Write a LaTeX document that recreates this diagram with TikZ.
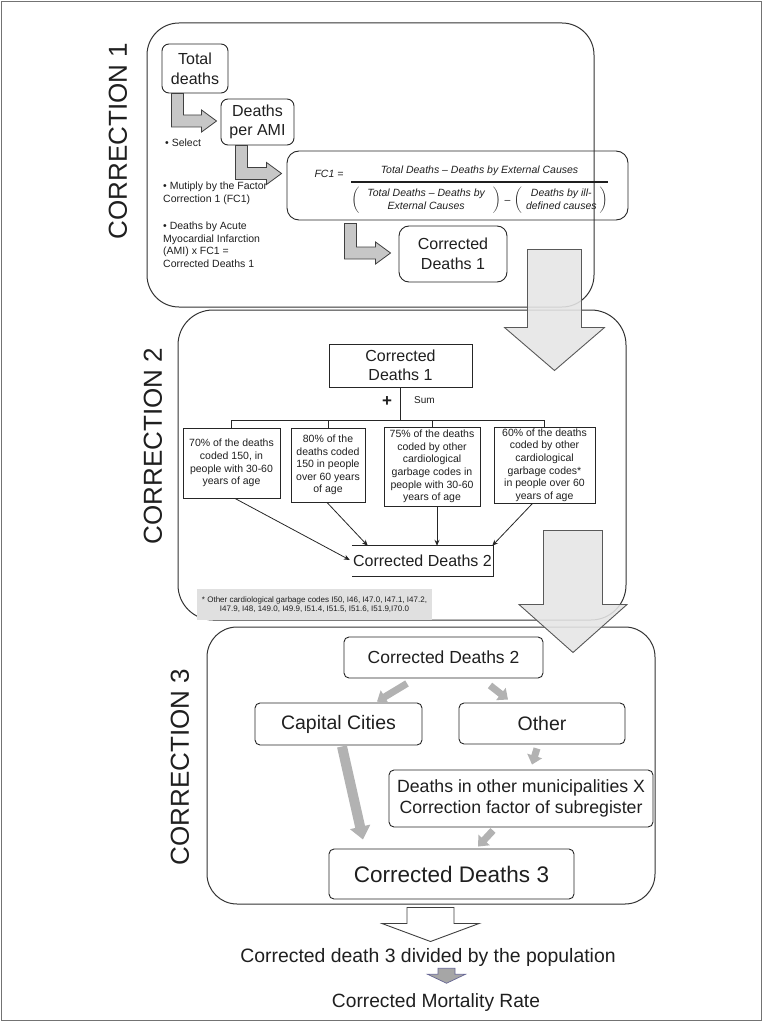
\documentclass[tikz,border=0pt]{standalone}
\usepackage{amsmath}
\usepackage{fontspec}
\setmainfont{Liberation Sans}
\usetikzlibrary{calc,arrows.meta}

% gray elbow arrow: #1 top of the shaft, #2 tip
\newcommand\elbow[2]{%
  \path[elbowarrow] let \p1=#1, \p2=#2 in
    (\x1-6pt,\y1) -- (\x1+6pt,\y1) -- (\x1+6pt,\y2+6pt) -- (\x2-15pt,\y2+6pt)
    -- (\x2-15pt,\y2+11pt) -- (\x2,\y2) -- (\x2-15pt,\y2-11pt) -- (\x2-15pt,\y2-6pt)
    -- (\x1-6pt,\y2-6pt) -- cycle;}
% block arrow pointing down: #1 style, #2 top, #3 half shaft, #4 half head, #5 shaft, #6 head
\newcommand\blockarrow[6]{%
  \path[#1] let \p1=#2 in
    (\x1-#3,\y1) -- (\x1+#3,\y1) -- (\x1+#3,\y1-#5) -- (\x1+#4,\y1-#5)
    -- (\x1,\y1-#5-#6) -- (\x1-#4,\y1-#5) -- (\x1-#3,\y1-#5) -- cycle;}
\newcommand\fsz[2]{\fontsize{#1}{#2}\selectfont}

\begin{document}
\begin{tikzpicture}[x=1pt,y=-1pt,
    every node/.style={text=black!88,inner sep=0pt,align=center},
    phase/.style={draw=black!80,line width=1pt,rounded corners=32pt},
    rbox/.style={draw=black!85,line width=0.9pt,rounded corners=7pt},
    sbox/.style={draw=black!85,line width=0.9pt},
    small/.style={font=\fsz{10.5}{12.6}},
    elbowarrow/.style={fill=black!22,draw=black!75,line width=0.8pt},
    bigarrow/.style={fill=black!10,fill opacity=0.88,draw=black!65,line width=0.9pt},
    whitearrow/.style={fill=white,draw=black!75,line width=0.9pt},
    tinyarrow/.style={fill=black!35,draw=blue!30!black!60,line width=0.7pt},
    thinarrow/.style={-{Stealth[length=6pt,width=5pt]},line width=0.8pt,black!85},
    garrow/.style={-{Triangle[length=9pt,width=15pt]},line width=7pt,black!30},
    phasename/.style={rotate=90,font=\fsz{26}{30}}]
\useasboundingbox (0,0) rectangle (763,1024);
\draw[black!55,line width=1.2pt] (1.5,1.5) rectangle (761.5,1020.5);

\node[phasename] (n1) at (118,141) {CORRECTION 1};
\node[phasename] (n2) at (153,446) {CORRECTION 2};
\node[phasename] (n3) at (180,767) {CORRECTION 3};

% correction 1
\node[phase,minimum width=447,minimum height=284] (c1) at (370.5,165) {};
\node[rbox,minimum width=66,minimum height=49,font=\fsz{16}{20}] (td) at (195,68.5) {Total\\deaths};
\node[rbox,minimum width=73,minimum height=46,font=\fsz{16}{19.5}] (dpa) at (257.5,122) {Deaths\\per AMI};
\node[rbox,rounded corners=12pt,minimum width=341,minimum height=69] (fcbox) at (457.5,185.5) {};
\node[rbox,rounded corners=10pt,minimum width=108,minimum height=56,font=\fsz{16}{19.7}] (cd1) at (453,254) {Corrected\\Deaths 1};
\node[small,anchor=west] (sel) at (165,143) {\textbullet\ Select};
\node[small,anchor=west,align=left] (mul) at (163,193.5) {\textbullet\ Mutiply by the Factor\\Correction 1 (FC1)};
\node[small,anchor=west,align=left] (ami) at (163,244.7) {\textbullet\ Deaths by Acute\\Myocardial Infarction\\(AMI) x FC1 =\\Corrected Deaths 1};
\node[small,font=\fsz{10.5}{12.6}\itshape] (fceq) at (329,174) {FC1 =};
\node[small,font=\fsz{10.5}{13}\itshape] (frac) at (479.5,190)
  {$\genfrac{}{}{1.6pt}{0}{\text{Total Deaths -- Deaths by External Causes}}
   {\left(\text{\begin{tabular}{@{\hspace{8pt}}c@{\hspace{8pt}}}Total Deaths -- Deaths by\\External Causes\end{tabular}}\right)\text{\,--\,}%
    \left(\text{\begin{tabular}{@{\hspace{4pt}}c@{\hspace{3pt}}}Deaths by ill-\\defined causes\end{tabular}}\right)}$};
\elbow{($(td.south west)+(16,0)$)}{($(dpa.west)+(-4,-1)$)}
\elbow{($(dpa.south west)+(21,0)$)}{($(fcbox.west)+(-5,-12)$)}
\elbow{($(fcbox.south west)+(64,3)$)}{($(cd1.west)+(-8,-1)$)}

% correction 2
\node[phase,rounded corners=35pt,minimum width=448,minimum height=310] (c2) at (402,465) {};
\node[sbox,minimum width=143,minimum height=43,font=\fsz{16}{19.3}] (cd1b) at (400.5,365.5) {Corrected\\Deaths 1};
\coordinate (hub) at ($(cd1b.south)+(0,33)$);
\node[font=\fsz{17}{18}\bfseries] (plus) at (387,402) {+};
\node[font=\fsz{10}{12},anchor=west] (sum) at (414,400) {Sum};
\node[sbox,small,minimum width=97,minimum height=70] (b1) at (231.5,463) {70\% of the deaths\\coded 150, in\\people with 30-60\\years of age};
\node[sbox,small,minimum width=74,minimum height=74] (b2) at (328,465) {80\% of the\\deaths coded\\150 in people\\over 60 years\\of age};
\node[sbox,small,minimum width=96,minimum height=79] (b3) at (432,466.5) {75\% of the deaths\\coded by other\\cardiological\\garbage codes in\\people with 30-60\\years of age};
\node[sbox,small,minimum width=101,minimum height=76] (b4) at (544.5,465) {60\% of the deaths\\coded by other\\cardiological\\garbage codes*\\in people over 60\\years of age};
\draw[line width=0.9pt,black!85] (cd1b.south) -- (hub);
\draw[line width=0.9pt,black!85] (b1.north) |- (hub) -| (b4.north);
\draw[line width=0.9pt,black!85] (b2.north) -- (b2.north |- hub);
\draw[line width=0.9pt,black!85] (b3.north) -- (b3.north |- hub);
\node[minimum width=141,minimum height=30,font=\fsz{16}{18}] (cd2b) at (422.5,561) {Corrected Deaths 2};
\draw[line width=0.9pt,black!85] (cd2b.north west) -- (cd2b.north east) -- (cd2b.south east) -- (cd2b.south west);
\draw[thinarrow] ($(b1.south)+(3.5,0)$) -- ($(cd2b.west)+(-2,-1)$);
\draw[thinarrow] ($(b2.south)+(-1,0)$) -- ($(cd2b.north west)+(16,0)$);
\draw[thinarrow] ($(b3.south)+(5,0)$) -- ($(cd2b.north)+(14.5,0)$);
\draw[thinarrow] ($(b4.south)+(-12,0)$) -- ($(cd2b.north east)+(-1,0)$);
\node[fill=black!12,minimum width=235,minimum height=31,font=\fsz{8}{9.7}] (note) at (314.5,604.5)
  {* Other cardiological garbage codes I50, I46, I47.0, I47.1, I47.2,\\I47.9, I48, 149.0, I49.9, I51.4, I51.5, I51.6, I51.9,I70.0};
\blockarrow{bigarrow}{($(c1.south east)+(-40,-58)$)}{27pt}{50pt}{78pt}{43pt}

% correction 3
\node[phase,rounded corners=30pt,minimum width=448,minimum height=277] (c3) at (431,765.5) {};
\blockarrow{bigarrow}{($(c2.south east)+(-53.5,-90)$)}{29.5pt}{54pt}{74pt}{48pt}
\node[rbox,rounded corners=5pt,minimum width=199,minimum height=41,font=\fsz{17.5}{20}] (cd2c) at (443.5,657.5) {Corrected Deaths 2};
\node[rbox,rounded corners=5pt,minimum width=167,minimum height=42,font=\fsz{19.5}{22}] (cap) at (338.5,724) {Capital Cities};
\node[rbox,rounded corners=5pt,minimum width=166,minimum height=41,font=\fsz{19.5}{22}] (oth) at (542,723.5) {Other};
\node[rbox,rounded corners=5pt,minimum width=264,minimum height=57,font=\fsz{17.7}{21.3}] (dom) at (521,798.5) {Deaths in other municipalities X\\Correction factor of subregister};
\node[rbox,rounded corners=5pt,minimum width=245,minimum height=50,font=\fsz{22.5}{25}] (cd3) at (451.5,874) {Corrected Deaths 3};
\draw[garrow] ($(cd2c.south)+(-36.5,5)$) -- ($(cap.north)+(38.5,-1)$);
\draw[garrow] ($(cd2c.south)+(46.5,7)$) -- ($(oth.north)+(-34,-3)$);
\draw[garrow] ($(oth.south)+(-5,4)$) -- ($(dom.north)+(11,-5)$);
\draw[garrow,line width=10pt,-{Triangle[length=13pt,width=20pt]}] ($(cap.south)+(3.5,1)$) -- ($(cd3.north)+(-88.5,-9)$);
\draw[garrow] ($(dom.south)+(-28,3)$) -- ($(cd3.north)+(26.5,-2)$);

% result
\blockarrow{whitearrow}{($(c3.south)+(-0.5,3)$)}{23.5pt}{48.5pt}{16pt}{18pt}
\node[font=\fsz{19.4}{22}] (pop) at (428,957) {Corrected death 3 divided by the population};
\node[font=\fsz{19.2}{22}] (rate) at (436,1003) {Corrected Mortality Rate};
\blockarrow{tinyarrow}{($(pop.south)+(18.5,2)$)}{8.5pt}{19pt}{6pt}{9pt}
\end{tikzpicture}
\end{document}
